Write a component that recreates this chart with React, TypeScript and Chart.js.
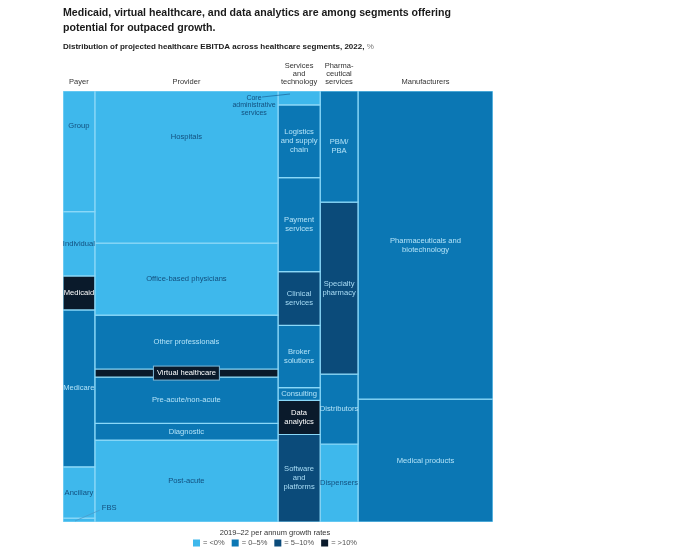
import React, { useEffect, useRef } from 'react';
import { Chart, registerables } from 'chart.js';

Chart.register(...registerables);

// ---------- DATA ----------
const titleLines = [
  'Medicaid, virtual healthcare, and data analytics are among segments offering',
  'potential for outpaced growth.',
];
const subtitle = 'Distribution of projected healthcare EBITDA across healthcare segments, 2022, ';
const subtitleUnit = '%';

const growthTitle = '2019–22 per annum growth rates';
const growthBands = ['<0%', '0–5%', '5–10%', '>10%'];

const columnNames = ['Payer', 'Provider', 'Services and technology', 'Pharmaceutical services', 'Manufacturers'];
const columnHeaderLines = [['Payer'], ['Provider'], ['Services', 'and', 'technology'], ['Pharma-', 'ceutical', 'services'], ['Manufacturers']];
const columnShares = [7.4, 42.6, 9.8, 8.8, 31.4];

const payerSegments = ['Group', 'Individual', 'Medicaid', 'Medicare', 'Ancillary', 'FBS'];
const payerShares = [28.0, 14.9, 7.9, 36.4, 11.9, 0.9];
const payerGrowth = [0, 0, 3, 1, 0, 0];

const providerSegments = ['Hospitals', 'Office-based physicians', 'Other professionals', 'Virtual healthcare', 'Pre-acute/non-acute', 'Diagnostic', 'Post-acute'];
const providerShares = [35.3, 16.7, 12.5, 1.9, 10.7, 3.9, 19.0];
const providerGrowth = [0, 0, 1, 3, 1, 1, 0];

const servicesSegments = ['Core administrative services', 'Logistics and supply chain', 'Payment services', 'Clinical services', 'Broker solutions', 'Consulting', 'Data analytics', 'Software and platforms'];
const servicesShares = [3.2, 16.9, 21.8, 12.5, 14.4, 3.0, 7.9, 20.3];
const servicesGrowth = [0, 1, 1, 2, 1, 1, 3, 2];

const pharmaSegments = ['PBM/PBA', 'Specialty pharmacy', 'Distributors', 'Dispensers'];
const pharmaShares = [25.8, 39.9, 16.2, 18.1];
const pharmaGrowth = [1, 2, 1, 0];

const manufacturerSegments = ['Pharmaceuticals and biotechnology', 'Medical products'];
const manufacturerShares = [71.5, 28.5];
const manufacturerGrowth = [1, 1];

// ---------- STYLE ----------
const bandColors = ['#3eb8ec', '#0b77b4', '#0b4b7a', '#0a1a2b'];
const bandTextColors = ['#124f7e', '#b3e3f8', '#a9ddf6', '#ffffff'];
const separatorColor = '#8ad8f8';
const FONT = '"Liberation Sans", Arial, sans-serif';

// display text (line breaks) and vertical placement per label
const labelLines: Record<string, string[]> = {
  'Logistics and supply chain': ['Logistics', 'and supply', 'chain'],
  'Payment services': ['Payment', 'services'],
  'Clinical services': ['Clinical', 'services'],
  'Broker solutions': ['Broker', 'solutions'],
  'Data analytics': ['Data', 'analytics'],
  'Software and platforms': ['Software', 'and', 'platforms'],
  'PBM/PBA': ['PBM/', 'PBA'],
  'Specialty pharmacy': ['Specialty', 'pharmacy'],
  'Pharmaceuticals and biotechnology': ['Pharmaceuticals and', 'biotechnology'],
  'Core administrative services': ['Core', 'administrative', 'services'],
};
const labelYFraction: Record<string, number> = { Hospitals: 0.3, Group: 0.29 };

const columnSegments = [payerSegments, providerSegments, servicesSegments, pharmaSegments, manufacturerSegments];
const columnSegShares = [payerShares, providerShares, servicesShares, pharmaShares, manufacturerShares];
const columnGrowth = [payerGrowth, providerGrowth, servicesGrowth, pharmaGrowth, manufacturerGrowth];

type Cell = { name: string; col: number; x0: number; x1: number; y0: number; y1: number; band: number };

function buildCells(): Cell[] {
  const cells: Cell[] = [];
  const totalW = columnShares.reduce((a, b) => a + b, 0);
  let xc = 0;
  columnShares.forEach((w, ci) => {
    const x0 = (xc / totalW) * 100;
    xc += w;
    const x1 = (xc / totalW) * 100;
    const shares = columnSegShares[ci];
    const tot = shares.reduce((a, b) => a + b, 0);
    let yc = 0;
    shares.forEach((s, si) => {
      const y0 = (yc / tot) * 100;
      yc += s;
      const y1 = (yc / tot) * 100;
      cells.push({ name: columnSegments[ci][si], col: ci, x0, x1, y0, y1, band: columnGrowth[ci][si] });
    });
  });
  return cells;
}

const labelPlugin = {
  id: 'mekkoLabels',
  afterDatasetsDraw(chart: any) {
    const { ctx, scales, chartArea } = chart;
    const xs = scales.x;
    const ys = scales.y;
    const cells: Cell[] = chart.config.options.plugins.mekkoLabels.cells;
    ctx.save();
    ctx.textBaseline = 'middle';
    ctx.textAlign = 'center';
    const lh = 9;
    const labelFont = `7.6px ${FONT}`;
    cells.forEach((c) => {
      const px0 = xs.getPixelForValue(c.x0);
      const px1 = xs.getPixelForValue(c.x1);
      const py0 = ys.getPixelForValue(c.y0);
      const py1 = ys.getPixelForValue(c.y1);
      const cx = (px0 + px1) / 2;
      const lines = labelLines[c.name] || [c.name];
      ctx.font = labelFont;
      if (c.name === 'Core administrative services') {
        ctx.fillStyle = bandTextColors[0];
        ctx.font = `7px ${FONT}`;
        const tx = px0 - 24;
        lines.forEach((l, i) => ctx.fillText(l, tx, py0 + 7 + i * 7.5));
        ctx.strokeStyle = '#1f6fa3';
        ctx.lineWidth = 0.8;
        ctx.beginPath();
        ctx.moveTo(px0 - 16, py0 + 6);
        ctx.lineTo(px0 + 12, py0 + 3);
        ctx.stroke();
        return;
      }
      if (c.name === 'FBS') {
        ctx.fillStyle = bandTextColors[0];
        ctx.textAlign = 'left';
        ctx.fillText('FBS', px1 + 7, py0 - 10);
        ctx.textAlign = 'center';
        ctx.strokeStyle = '#4a9ccc';
        ctx.lineWidth = 0.8;
        ctx.beginPath();
        ctx.moveTo(px1 + 5, py0 - 8);
        ctx.lineTo(px0 + 12, py1 - 1);
        ctx.stroke();
        return;
      }
      const frac = labelYFraction[c.name] ?? 0.5;
      const cy = py0 + (py1 - py0) * frac;
      if (c.name === 'Virtual healthcare') {
        const w = ctx.measureText(c.name).width + 7;
        ctx.fillStyle = bandColors[3];
        ctx.fillRect(cx - w / 2, cy - 7, w, 14);
        ctx.strokeStyle = '#7fb9d8';
        ctx.lineWidth = 1;
        ctx.strokeRect(cx - w / 2, cy - 7, w, 14);
        ctx.fillStyle = '#ffffff';
        ctx.fillText(c.name, cx, cy);
        return;
      }
      ctx.fillStyle = bandTextColors[c.band];
      const start = cy - ((lines.length - 1) * lh) / 2;
      lines.forEach((l, i) => ctx.fillText(l, cx, start + i * lh));
    });

    // column headers
    ctx.fillStyle = '#333333';
    ctx.font = `7.5px ${FONT}`;
    const totalW = columnShares.reduce((a, b) => a + b, 0);
    let acc = 0;
    columnShares.forEach((w, ci) => {
      const a = xs.getPixelForValue((acc / totalW) * 100);
      acc += w;
      const b = xs.getPixelForValue((acc / totalW) * 100);
      const hl = columnHeaderLines[ci];
      hl.forEach((l, i) => {
        ctx.fillText(l, (a + b) / 2, chartArea.top - 9 - (hl.length - 1 - i) * 8);
      });
    });

    // title & subtitle
    ctx.textAlign = 'left';
    ctx.fillStyle = '#1a1a1a';
    ctx.font = `bold 10.6px ${FONT}`;
    titleLines.forEach((t, i) => ctx.fillText(t, chartArea.left, 13 + i * 15));
    ctx.font = `bold 8px ${FONT}`;
    ctx.fillText(subtitle, chartArea.left, 47);
    const sw = ctx.measureText(subtitle).width;
    ctx.font = `8px ${FONT}`;
    ctx.fillStyle = '#777777';
    ctx.fillText(subtitleUnit, chartArea.left + sw, 47);

    // growth legend
    const mid = (chartArea.left + chartArea.right) / 2 - 3;
    ctx.textAlign = 'center';
    ctx.fillStyle = '#333333';
    ctx.font = `7.5px ${FONT}`;
    ctx.fillText(growthTitle, mid, chartArea.bottom + 11);
    const items = growthBands.map((b) => `= ${b}`);
    const widths = items.map((t) => ctx.measureText(t).width);
    const sq = 7;
    const gapIn = 3;
    const gapOut = 7;
    const total = widths.reduce((s, w) => s + sq + gapIn + w, 0) + gapOut * (items.length - 1);
    let lx = mid - total / 2;
    const ly = chartArea.bottom + 21;
    ctx.textAlign = 'left';
    items.forEach((t, i) => {
      ctx.fillStyle = bandColors[i];
      ctx.fillRect(lx, ly - sq / 2, sq, sq);
      lx += sq + gapIn;
      ctx.fillStyle = '#555555';
      ctx.fillText(t, lx, ly);
      lx += widths[i] + gapOut;
    });
    ctx.restore();
  },
};

export default function App() {
  const ref = useRef<HTMLCanvasElement | null>(null);
  useEffect(() => {
    if (!ref.current) return;
    const cells = buildCells();
    const datasets = cells.map((c) => ({
      type: 'line' as const,
      label: `${columnNames[c.col]} – ${c.name}`,
      data: [
        { x: c.x0, y: c.y0 },
        { x: c.x1, y: c.y0 },
        { x: c.x1, y: c.y1 },
        { x: c.x0, y: c.y1 },
        { x: c.x0, y: c.y0 },
      ],
      fill: 'shape',
      backgroundColor: bandColors[c.band],
      borderColor: separatorColor,
      borderWidth: 1.2,
      pointRadius: 0,
      pointHoverRadius: 0,
      tension: 0,
    }));
    const chart = new Chart(ref.current, {
      type: 'line',
      data: { datasets },
      options: {
        responsive: false,
        animation: false,
        devicePixelRatio: 1,
        layout: { padding: { left: 63, right: 207, top: 91, bottom: 31 } },
        scales: {
          x: { type: 'linear', min: 0, max: 100, display: false },
          y: { type: 'linear', min: 0, max: 100, reverse: true, display: false },
        },
        plugins: {
          legend: { display: false },
          title: { display: false },
          tooltip: { enabled: false },
          mekkoLabels: { cells },
        } as any,
        events: [],
      },
      plugins: [labelPlugin],
    } as any);
    return () => chart.destroy();
  }, []);
  return (
    <div style={{ position: 'absolute', left: 0, top: 0, width: 700, height: 553, background: '#fff' }}>
      <canvas ref={ref} width={700} height={553} style={{ width: 700, height: 553 }} />
    </div>
  );
}
